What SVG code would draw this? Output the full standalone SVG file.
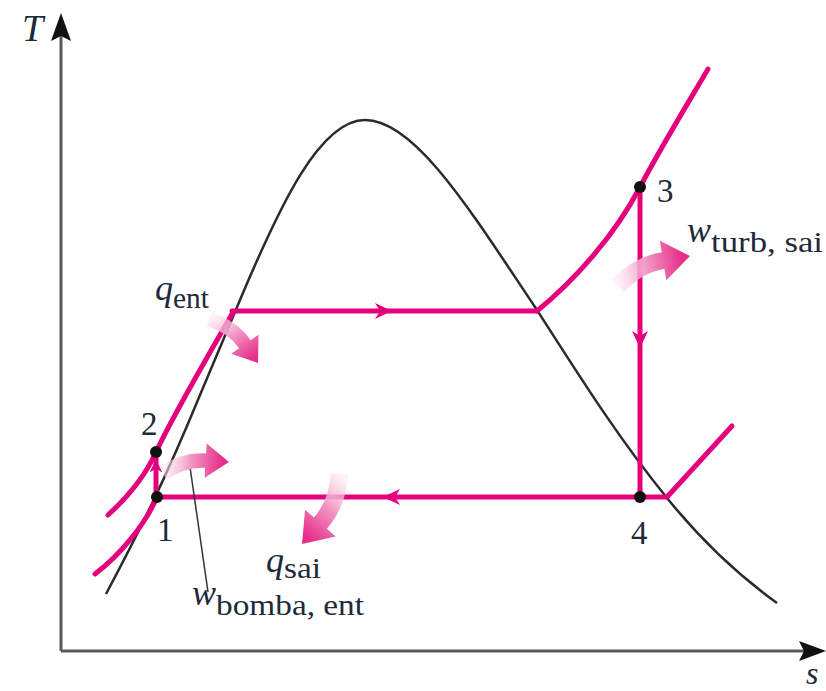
<svg xmlns="http://www.w3.org/2000/svg" width="826" height="691" viewBox="0 0 826 691">
<style>
.ax{stroke:#5a5a5a;stroke-width:3;fill:none}
.dome{stroke:#2b2b2b;stroke-width:2.5;fill:none}
.cy{stroke:#e4007c;stroke-width:5;fill:none;stroke-linecap:round}
.dot{fill:#111}
.lbl{font-family:"Liberation Serif","Times New Roman",serif;fill:#1e2a3a}
.num{font-size:33px}
.main{font-size:36px;font-style:italic}
.sub{font-size:29px}
</style>
<defs>
<linearGradient id="fg" gradientUnits="userSpaceOnUse" x1="-72" y1="0" x2="-8" y2="0">
<stop offset="0" stop-color="#fde4ef" stop-opacity="0.5"/>
<stop offset="0.45" stop-color="#f39ac6"/>
<stop offset="1" stop-color="#e62f8a"/>
</linearGradient>
<path id="fat" d="M0,0 L-26,-19 L-26,-8 Q-53,-8 -77,10 L-68,24 Q-48,8 -26,8 L-26,19 Z" fill="url(#fg)"/>
<path id="ah" d="M0,0 L-17,-8 L-12,0 L-17,8 Z" fill="#e4007c"/>
</defs>

<g id="axes">
<line class="ax" x1="61" y1="36" x2="61" y2="651"/>
<line class="ax" x1="61" y1="651" x2="808" y2="651"/>
<path d="M61,13 L71,41 L61,36 L51,41 Z" fill="#111"/>
<path d="M826,651 L799,641 L804,651 L799,661 Z" fill="#111"/>
<text class="lbl" x="22" y="41" font-size="38" font-style="italic">T</text>
<text class="lbl" x="806" y="684" font-size="32" font-style="italic">s</text>
</g>

<g id="dome">
<path class="dome" d="M106,594 C140,530 165,480 200,395 C215,360 228,328 240,300 C280,205 320,120 365,120 C415,120 470,210 537,310 C585,385 620,440 667,498 C705,545 745,580 777,603"/>
</g>

<g id="connectors">
<path class="cy" d="M108,515 C130,495 147,472 156,452 C175,412 200,370 232,314"/>
<path class="cy" d="M95,574 C120,555 145,525 157,497"/>
<line class="cy" x1="156" y1="497" x2="156" y2="452"/>
<line class="cy" x1="232" y1="311" x2="537" y2="311"/>
<path class="cy" d="M537,311 C575,280 615,235 640,187 C665,140 690,100 708,69"/>
<line class="cy" x1="640" y1="187" x2="640" y2="497"/>
<line class="cy" x1="157" y1="497" x2="667" y2="497"/>
<line class="cy" x1="667" y1="497" x2="732" y2="426"/>
<use href="#ah" transform="translate(392,311)"/>
<use href="#ah" transform="translate(640,348) rotate(90)"/>
<use href="#ah" transform="translate(383,497) rotate(180)"/>
<use href="#ah" transform="translate(156,459) rotate(-90) scale(0.8)"/>
<line x1="190" y1="467" x2="208" y2="592" stroke="#333" stroke-width="1.5"/>
</g>

<g id="heat-arrows">
<use href="#fat" transform="translate(258,363) rotate(55) scale(0.88)"/>
<use href="#fat" transform="translate(229,462) rotate(3.5) scale(0.9)"/>
<use href="#fat" transform="translate(690,256) rotate(-9.4) scale(1.05)"/>
<use href="#fat" transform="translate(302,544) rotate(131.3) scale(1.07)"/>
</g>

<g id="p1"><circle class="dot" cx="157" cy="497" r="6"/><text class="lbl num" x="157" y="541">1</text></g>
<g id="p2"><circle class="dot" cx="156" cy="452" r="6"/><text class="lbl num" x="141" y="435">2</text></g>
<g id="p3"><circle class="dot" cx="640" cy="187" r="6"/><text class="lbl num" x="657" y="202">3</text></g>
<g id="p4"><circle class="dot" cx="640" cy="497" r="6"/><text class="lbl num" x="631" y="544">4</text></g>

<g id="labels">
<text class="lbl" x="155" y="300"><tspan class="main">q</tspan><tspan class="sub" dy="8" textLength="36" lengthAdjust="spacingAndGlyphs">ent</tspan></text>
<text class="lbl" x="687" y="242"><tspan class="main">w</tspan><tspan class="sub" dy="10" textLength="112" lengthAdjust="spacingAndGlyphs">turb, sai</tspan></text>
<text class="lbl" x="266" y="572"><tspan class="main">q</tspan><tspan class="sub" dy="6" textLength="37" lengthAdjust="spacingAndGlyphs">sai</tspan></text>
<text class="lbl" x="192" y="605"><tspan class="main">w</tspan><tspan class="sub" dy="10" textLength="148" lengthAdjust="spacingAndGlyphs">bomba, ent</tspan></text>
</g>
</svg>
